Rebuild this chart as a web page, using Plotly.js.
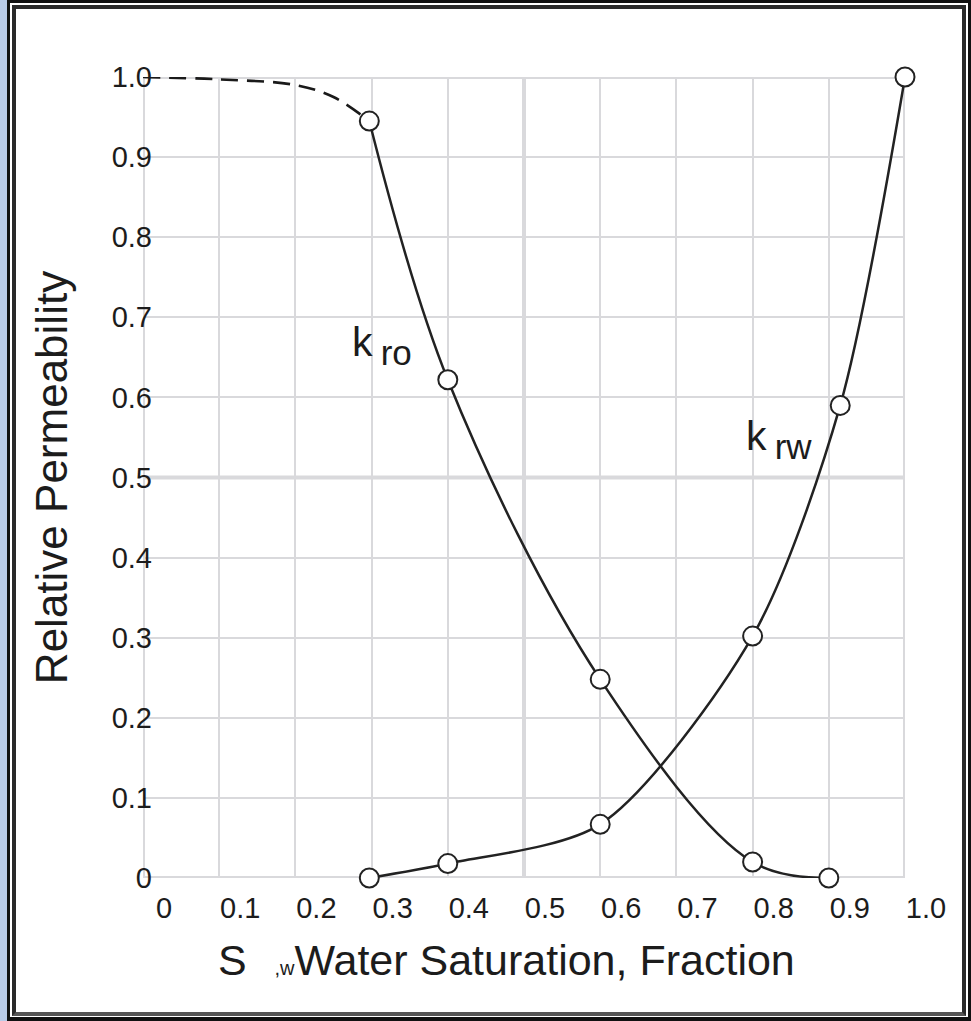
<!DOCTYPE html>
<html>
<head>
<meta charset="utf-8">
<script src="https://cdn.plot.ly/plotly-3.0.1.min.js"></script>
<style>
html,body{margin:0;padding:0;background:#fff;}
#wrap{position:relative;width:971px;height:1021px;overflow:hidden;background:#fff;}
#blue{position:absolute;left:0;top:0;width:7px;height:1021px;background:#b9cbe8;}
#outer{position:absolute;left:7px;top:0;width:964px;height:1021px;box-sizing:border-box;border:3px solid #111;border-bottom-width:4px;}
#inner{position:absolute;left:12px;top:5px;width:954px;height:1011px;box-sizing:border-box;border:4px solid #2a2a2a;border-bottom-color:#555;}
#chart{position:absolute;left:0;top:0;width:971px;height:1021px;}
</style>
</head>
<body>
<div id="wrap">
  <div id="blue"></div>
  <div id="outer"></div>
  <div id="inner"></div>
  <div id="chart"></div>
</div>
<script>
// ---- data ----
const swKro    = [0.297, 0.40, 0.60, 0.80, 0.90];
const kro      = [0.945, 0.622, 0.248, 0.020, 0.0];
const swKroExt = [0.0, 0.10, 0.20, 0.25, 0.297];
const kroExt   = [1.0, 0.997, 0.990, 0.975, 0.945];
const swKrw    = [0.297, 0.40, 0.60, 0.80, 0.915, 1.0];
const krw      = [0.0, 0.018, 0.067, 0.302, 0.590, 1.0];
const xTickVals = [0, 0.1, 0.2, 0.3, 0.4, 0.5, 0.6, 0.7, 0.8, 0.9, 1.0];
const xTickText = ['0', '0.1', '0.2', '0.3', '0.4', '0.5', '0.6', '0.7', '0.8', '0.9', '1.0'];
const yTickVals = [0, 0.1, 0.2, 0.3, 0.4, 0.5, 0.6, 0.7, 0.8, 0.9, 1.0];
const yTickText = ['0', '0.1', '0.2', '0.3', '0.4', '0.5', '0.6', '0.7', '0.8', '0.9', '1.0'];
const thickGrid = [0, 0.5, 1.0];

const FONT = 'Liberation Sans, Arial, Helvetica, sans-serif';
const INK = '#1c1c1c';
const GRID = '#d9d9dc';
const NB = '\u00a0';

const marker = {symbol: 'circle', size: 19, color: '#ffffff', line: {color: '#222', width: 2}};

const traces = [
  {x: swKroExt, y: kroExt, mode: 'lines', type: 'scatter', cliponaxis: false,
   line: {color: '#1a1a1a', width: 2.6, dash: '17px,9px', shape: 'spline', smoothing: 1}, hoverinfo: 'skip', showlegend: false},
  {x: swKro, y: kro, mode: 'lines+markers', type: 'scatter', cliponaxis: false, name: 'kro',
   line: {color: '#222', width: 2.5, shape: 'spline', smoothing: 1}, marker: marker, showlegend: false},
  {x: swKrw, y: krw, mode: 'lines+markers', type: 'scatter', cliponaxis: false, name: 'krw',
   line: {color: '#222', width: 2.5, shape: 'spline', smoothing: 0.8}, marker: marker, showlegend: false}
];

const shapes = [];
thickGrid.forEach(v => {
  shapes.push({type: 'line', layer: 'below', xref: 'x', yref: 'y', x0: v, x1: v, y0: 0, y1: 1, line: {color: GRID, width: 4}});
  shapes.push({type: 'line', layer: 'below', xref: 'x', yref: 'y', x0: 0, x1: 1, y0: v, y1: v, line: {color: GRID, width: 4}});
});

const layout = {
  width: 971, height: 1021,
  margin: {l: 143, r: 66, t: 77, b: 143},
  paper_bgcolor: 'rgba(0,0,0,0)',
  plot_bgcolor: '#ffffff',
  font: {family: FONT, color: INK},
  showlegend: false,
  xaxis: {
    range: [0, 1], tickmode: 'array', tickvals: xTickVals, ticktext: xTickText,
    showgrid: true, gridcolor: GRID, gridwidth: 2, zeroline: false, showline: false,
    ticks: '', ticklabelshift: 21, ticklabelstandoff: 10,
    tickfont: {family: FONT, size: 29, color: INK},
    fixedrange: true
  },
  yaxis: {
    range: [0, 1], tickmode: 'array', tickvals: yTickVals, ticktext: yTickText,
    showgrid: true, gridcolor: GRID, gridwidth: 2, zeroline: false, showline: false,
    ticks: '', ticklabelstandoff: -10,
    tickfont: {family: FONT, size: 29, color: INK},
    title: {text: 'Relative Permeability', font: {family: FONT, size: 44, color: INK}, standoff: 30},
    fixedrange: true
  },
  shapes: shapes,
  annotations: [
    {x: 0.096, y: -0.102, xref: 'paper', yref: 'paper', xanchor: 'left', yanchor: 'middle', showarrow: false,
     text: 'S<span style="font-size:20px">' + NB.repeat(5) + ',w</span>Water Saturation, Fraction',
     font: {family: FONT, size: 43, color: INK}},
    {x: 0.272, y: 0.665, xref: 'x', yref: 'y', xanchor: 'left', yanchor: 'middle', showarrow: false,
     text: 'k\u2009<sub><span style="font-size:35px">ro</span></sub>', font: {family: FONT, size: 41, color: INK}},
    {x: 0.789, y: 0.548, xref: 'x', yref: 'y', xanchor: 'left', yanchor: 'middle', showarrow: false,
     text: 'k\u2009<sub><span style="font-size:35px">rw</span></sub>', font: {family: FONT, size: 41, color: INK}}
  ]
};

Plotly.newPlot('chart', traces, layout, {displayModeBar: false, staticPlot: true});
</script>
</body>
</html>
